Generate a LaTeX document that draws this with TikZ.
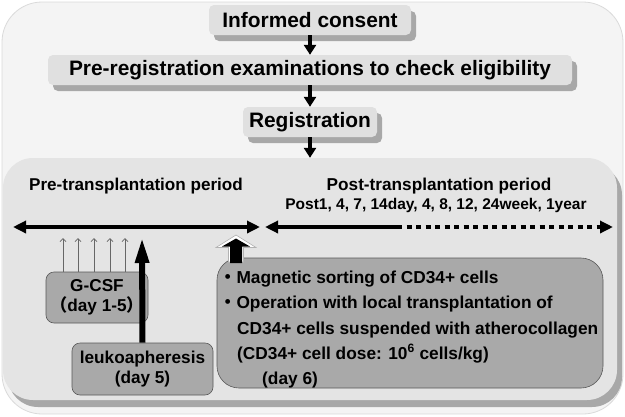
\documentclass[tikz,border=0pt]{standalone}
\usepackage{fontspec}
\setmainfont{Liberation Sans}
\newfontfamily\cjk{Noto Sans CJK JP}
\usetikzlibrary{arrows.meta,shadows}
\definecolor{outerbg}{HTML}{F4F4F4}
\definecolor{framegray}{HTML}{DADADA}
\definecolor{innerbg}{HTML}{E4E4E4}
\definecolor{boxbg}{HTML}{E0E0E0}
\definecolor{shadowgray}{HTML}{A8A8A8}
\definecolor{darkbox}{HTML}{A9A9A9}
\tikzset{
  stepbox/.style={rectangle, rounded corners=5pt, fill=boxbg, minimum height=30pt,
    drop shadow={shadow xshift=5pt, shadow yshift=-6pt, fill=shadowgray, opacity=1},
    font=\fontsize{20.9}{24}\selectfont\bfseries},
  flowarrow/.style={line width=3.5pt, -{Triangle[width=12pt,length=10pt]}},
  graybox/.style={rectangle, rounded corners=8pt, fill=darkbox, draw=black!65, line width=0.6pt,
    align=center, font=\fontsize{17.2}{20.5}\selectfont\bfseries},
  timeline/.style={line width=3.5pt},
  tltip/.tip={Triangle[width=12pt,length=13pt]},
  celltext/.style={anchor=base west, font=\fontsize{17.3}{21}\selectfont\bfseries},
}
\begin{document}
\begin{tikzpicture}[x=1pt, y=-1pt, every node/.style={inner sep=0pt}]
        \useasboundingbox (0,0) rectangle (625,416);
        % background panels
        \node (frame) [rectangle, rounded corners=40pt, fill=outerbg, draw=framegray, line width=0.8pt,
                minimum width=621pt, minimum height=412pt] at (312.5,208) {};
        \node (period) [rectangle, rounded corners=30pt, fill=innerbg, minimum width=614pt, minimum height=242pt,
                drop shadow={shadow xshift=5pt, shadow yshift=-7pt, fill=shadowgray, opacity=1}] at (310,279) {};
        % enrolment steps
        \node (consent) [stepbox, minimum width=202pt] at (310,20) {Informed consent};
        \node (prereg) [stepbox, minimum width=524pt] at (310,70) {Pre-registration examinations to check eligibility};
        \node (reg) [stepbox, minimum width=134pt] at (310,122) {Registration};
        \draw[flowarrow] (consent) -- (prereg.north);
        \draw[flowarrow] (prereg) -- (reg.north);
        \draw[flowarrow] (reg) -- (period.north);
        % periods
        \node (pretitle) [anchor=base, font=\fontsize{17.1}{20}\selectfont\bfseries] at (136,190) {Pre-transplantation period};
        \node (posttitle) [anchor=base, font=\fontsize{17.2}{20}\selectfont\bfseries] at (439,190) {Post-transplantation period};
        \node (visits) [anchor=base, font=\fontsize{15.5}{18}\selectfont\bfseries] at (436,209) {Post1, 4, 7, 14day, 4, 8, 12, 24week, 1year};
        \coordinate (preL) at (13,227);
        \coordinate (preR) at (260,227);
        \coordinate (postL) at (265,227);
        \coordinate (postM) at (397,227);
        \coordinate (postR) at (613,227);
        \draw[timeline, tltip-tltip] (preL) -- (preR);
        \draw[timeline, tltip-] (postL) -- (postM);
        \draw[timeline, dash pattern=on 5pt off 4.5pt, -tltip] (postM) -- (postR);
        % treatment boxes
        \node (gcsf) [graybox, minimum width=102pt, minimum height=51pt] at (97,297.5) {G-CSF\\{\cjk （}day 1-5{\cjk ）}};
        \node (leuko) [graybox, minimum width=141pt, minimum height=52pt] at (142.5,369) {leukoapheresis\\(day 5)};
        \node (cells) [graybox, rounded corners=22pt, minimum width=386pt, minimum height=130pt] at (410,323) {};
        \node (cellA) [celltext] at (219,283) {{\cjk ・}Magnetic sorting of CD34+ cells};
        \node (cellB) [celltext] at (219,308.5) {{\cjk ・}Operation with local transplantation of};
        \node (cellC) [celltext] at (237,334) {CD34+ cells suspended with atherocollagen};
        \node (cellD) [celltext] at (237,359) {(CD34+ cell dose: 10\textsuperscript{6} cells/kg)};
        \node (cellE) [celltext] at (262,384) {(day 6)};
        % G-CSF injections
        \foreach \x in {63,78,94,110,125}
                \draw[black!60, line width=0.8pt, -{Straight Barb[length=3pt,width=6pt]}] (\x,0 |- gcsf.north) -- (\x,238);
        \coordinate (leukotip) at (142,237);
        \draw[line width=6pt, -{Triangle[width=13pt,length=26pt]}] (leuko.north) -- (leukotip);
        % transplantation day
        \draw[fill=white, draw=gray!60, line width=0.6pt] (236,235) -- (256,247.5) -- (243.5,247.5) -- (243.5,262)
                -- (228.5,262) -- (228.5,247.5) -- (216,247.5) -- cycle;
        \fill (236,238.5) -- (250,246.5) -- (242,246.5) -- (242,263) -- (230,263) -- (230,246.5) -- (222,246.5) -- cycle;
\end{tikzpicture}
\end{document}
